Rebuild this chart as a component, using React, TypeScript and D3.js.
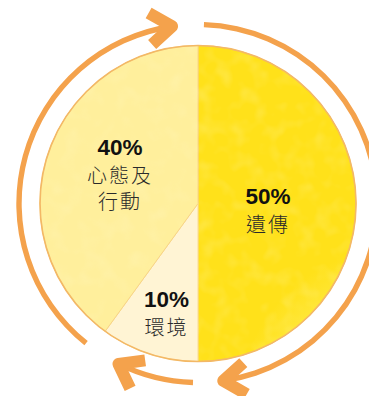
import React from "react";
import * as d3 from "d3";

const categories = ["遺傳", "環境", "心態及行動"];
const values = [50, 10, 40];
const percentLabels = ["50%", "10%", "40%"];
const labelLines = [["遺傳"], ["環境"], ["心態及", "行動"]];

const W = 369;
const H = 396;
const cx = 198;
const cy = 203.5;
const R = 158;
const ringR = 179;

const sliceGrad = [
  ["#fff27e", "#ffea4a", "#ffe11a"],
  ["#fffdf2", "#fffae4", "#fff4d4"],
  ["#fffde8", "#fff7c4", "#ffef9c"],
];
const sliceStroke = ["#f7cc60", "#fbdc90", "#f8d486"];

const orange = "#f4a24c";

function ringPt(aDeg: number, r = ringR) {
  const a = (aDeg * Math.PI) / 180;
  return [cx + r * Math.sin(a), cy - r * Math.cos(a)];
}

function chevron(tipDeg: number) {
  const a = (tipDeg * Math.PI) / 180;
  const [tx, ty] = ringPt(tipDeg);
  const dx = Math.cos(a), dy = Math.sin(a);
  const px = tx - dx * 6, py = ty - dy * 6;
  const bx = -dx, by = -dy;
  const L = 27;
  const h = (36 * Math.PI) / 180;
  const rot = (t: number) => [bx * Math.cos(t) - by * Math.sin(t), bx * Math.sin(t) + by * Math.cos(t)];
  const [ax1, ay1] = rot(h);
  const [ax2, ay2] = rot(-h);
  return `M${px + ax1 * L},${py + ay1 * L}L${px},${py}L${px + ax2 * L},${py + ay2 * L}`;
}

const arcSegs = [
  { start: 218.7, end: 352, tip: 353.6 },
  { start: 1.9, end: 172, tip: 173.8 },
  { start: 181.6, end: 206.5, tip: 208.3 },
];

export default function App() {
  const pie = d3.pie<number>().sort(null).value((d) => d);
  const arcs = pie(values);
  const arcGen = d3.arc<d3.PieArcDatum<number>>().innerRadius(0).outerRadius(R);
  const ringArc = d3.arc();

  const labelPos = [
    [268, 204],
    [166.5, 307],
    [120, 155],
  ];

  return (
    <svg width={W} height={H} style={{ position: "absolute", left: 0, top: 0 }}>
      <defs>
        {sliceGrad.map((g, i) => (
          <radialGradient key={i} id={`g${i}`} gradientUnits="userSpaceOnUse" cx={cx} cy={cy} r={R}>
            <stop offset="0%" stopColor={g[0]} />
            <stop offset="65%" stopColor={g[1]} />
            <stop offset="100%" stopColor={g[2]} />
          </radialGradient>
        ))}
        <filter id="mottle" x="0" y="0" width="1" height="1">
          <feTurbulence type="fractalNoise" baseFrequency="0.06" numOctaves="2" seed="3" result="n" />
          <feColorMatrix in="n" type="matrix" values="0 0 0 0 1  0 0 0 0 1  0 0 0 0 0.8  0 0 0 1.2 -0.55" result="m" />
          <feComposite in="m" in2="SourceGraphic" operator="in" />
        </filter>
      </defs>
      <g transform={`translate(${cx},${cy})`}>
        {arcs.map((a, i) => (
          <path key={categories[i]} d={arcGen(a) || ""} fill={`url(#g${i})`} stroke={sliceStroke[i]} strokeWidth={1} />
        ))}
        <path d={arcGen(arcs[0]) || ""} fill="#fff" opacity={0.35} filter="url(#mottle)" />
        <path d={arcGen(arcs[2]) || ""} fill="#fff" opacity={0.25} filter="url(#mottle)" />
        <circle r={R} fill="none" stroke="#f3b866" strokeWidth={1.6} />
      </g>
      <g transform={`translate(${cx},${cy})`}>
        {arcSegs.map((s, i) => {
          const a0 = (s.start * Math.PI) / 180;
          const a1 = (s.end * Math.PI) / 180;
          return (
            <path
              key={i}
              d={
                ringArc({
                  innerRadius: ringR - 2.7,
                  outerRadius: ringR + 2.7,
                  startAngle: Math.min(a0, a1),
                  endAngle: Math.max(a0, a1),
                } as any) || ""
              }
              fill={orange}
            />
          );
        })}
      </g>
      {arcSegs.map((s, i) => (
        <path
          key={`h${i}`}
          d={chevron(s.tip)}
          fill="none"
          stroke={orange}
          strokeWidth={12}
          strokeLinejoin="round"
          strokeLinecap="butt"
        />
      ))}
      {labelPos.map(([x, y], i) => (
        <g key={`l${i}`}>
          <text x={x} y={y} textAnchor="middle" fontFamily="Liberation Sans, Arial, sans-serif" fontWeight="bold" fontSize={22.5} fill="#111">
            {percentLabels[i]}
          </text>
          {labelLines[i].map((t, j) => (
            <text
              key={j}
              x={x}
              y={y + 28 + j * 25.5}
              textAnchor="middle"
              fontFamily="Noto Sans CJK TC, sans-serif"
              fontWeight={300}
              fontSize={20}
              letterSpacing={2}
              fill="#2a2a2a"
            >
              {t}
            </text>
          ))}
        </g>
      ))}
    </svg>
  );
}
